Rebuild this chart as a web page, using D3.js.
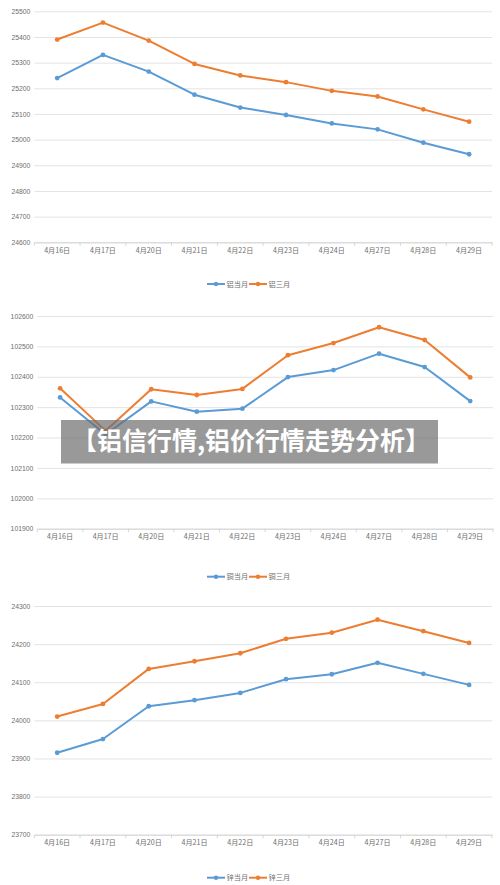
<!DOCTYPE html>
<html>
<head>
<meta charset="utf-8">
<script src="https://cdn.jsdelivr.net/npm/d3@7"></script>
<style>
  body { margin: 0; background: #fff; }
  text { font-family: "Noto Sans CJK SC", "Noto Sans", sans-serif; }
</style>
</head>
<body>
<div id="chart"></div>
<script>
// x categories shared by the three charts
const dates = ["4月16日", "4月17日", "4月20日", "4月21日", "4月22日", "4月23日", "4月24日", "4月27日", "4月28日", "4月29日"];

// aluminium
const alNames = ["铝当月", "铝三月"];
const alCurrent = [25240, 25330, 25265, 25175, 25125, 25096, 25063, 25040, 24988, 24943];
const alThird = [25390, 25456, 25386, 25295, 25250, 25224, 25190, 25168, 25118, 25070];
const alTicks = [24600, 24700, 24800, 24900, 25000, 25100, 25200, 25300, 25400, 25500];

// copper
const cuNames = ["铜当月", "铜三月"];
const cuCurrent = [102332, 102210, 102319, 102285, 102295, 102399, 102422, 102476, 102432, 102320];
const cuThird = [102362, 102222, 102359, 102340, 102360, 102471, 102511, 102563, 102521, 102398];
const cuTicks = [101900, 102000, 102100, 102200, 102300, 102400, 102500, 102600];

// zinc
const znNames = ["锌当月", "锌三月"];
const znCurrent = [23915, 23951, 24037, 24053, 24072, 24108, 24121, 24151, 24122, 24093];
const znThird = [24010, 24043, 24135, 24155, 24176, 24214, 24230, 24264, 24234, 24203];
const znTicks = [23700, 23800, 23900, 24000, 24100, 24200, 24300];

const title = "【铝信行情,铝价行情走势分析】";

const colors = ["#5b9bd5", "#ed7d31"];

const width = 500, height = 885;

const svg = d3.select("#chart")
  .append("svg")
  .attr("width", width)
  .attr("height", height);

// one block per metal: plot box in page pixels
const charts = [
  { names: alNames, series: [alCurrent, alThird], ticks: alTicks, left: 34.3, right: 492, top: 11.3, bottom: 242.3, legendY: 284 },
  { names: cuNames, series: [cuCurrent, cuThird], ticks: cuTicks, left: 37.3, right: 493, top: 316, bottom: 528.7, legendY: 576.7 },
  { names: znNames, series: [znCurrent, znThird], ticks: znTicks, left: 34.3, right: 492, top: 606, bottom: 834.7, legendY: 877.7 }
];

charts.forEach((c) => {
  let g = svg.append("g");

  let x = d3.scaleBand().domain(dates).range([c.left, c.right]);
  let y = d3.scaleLinear()
    .domain([d3.min(c.ticks), d3.max(c.ticks)])
    .range([c.bottom, c.top]);

  // gridlines + y labels
  let yAxis = g.append("g")
    .attr("transform", "translate(" + c.left + ",0)")
    .call(d3.axisLeft(y).tickValues(c.ticks).tickSize(-(c.right - c.left)).tickPadding(4).tickFormat(d3.format("d")));
  yAxis.select(".domain").remove();
  yAxis.selectAll("line").attr("stroke", "#e3e3e3").attr("stroke-width", 1);
  yAxis.selectAll("text")
    .attr("fill", "#6e6e6e")
    .style("font-size", "6.8px")
    .style("font-family", "'Liberation Sans', Arial, sans-serif");

  // x axis: line, boundary ticks, labels
  let xAxis = g.append("g")
    .attr("transform", "translate(0," + c.bottom + ")")
    .call(d3.axisBottom(x).tickSize(0).tickPadding(5.5));
  xAxis.select(".domain").attr("stroke", "#d6d6d6");
  xAxis.selectAll("text")
    .attr("fill", "#6e6e6e")
    .style("font-size", "7.1px");

  let bounds = dates.map((d) => x(d)).concat([c.right]);
  xAxis.selectAll(".bound")
    .data(bounds)
    .enter()
    .append("line")
    .attr("class", "bound")
    .attr("x1", (d) => d)
    .attr("x2", (d) => d)
    .attr("y1", 0)
    .attr("y2", 3.5)
    .attr("stroke", "#d6d6d6");

  let line = d3.line()
    .x((d, i) => x(dates[i]) + x.bandwidth() / 2)
    .y((d) => y(d));

  c.series.forEach((s, k) => {
    g.append("path")
      .datum(s)
      .attr("fill", "none")
      .attr("stroke", colors[k])
      .attr("stroke-width", 2)
      .attr("stroke-linejoin", "round")
      .attr("d", line);

    g.selectAll(".dot" + k)
      .data(s)
      .enter()
      .append("circle")
      .attr("class", "dot" + k)
      .attr("cx", (d, i) => x(dates[i]) + x.bandwidth() / 2)
      .attr("cy", (d) => y(d))
      .attr("r", 2.4)
      .attr("fill", colors[k]);
  });

  // legend
  let lg = g.append("g").attr("transform", "translate(207," + c.legendY + ")");
  c.names.forEach((n, k) => {
    let item = lg.append("g").attr("transform", "translate(" + k * 42 + ",0)");
    item.append("line")
      .attr("x1", 0).attr("x2", 18)
      .attr("y1", 0).attr("y2", 0)
      .attr("stroke", colors[k])
      .attr("stroke-width", 2);
    item.append("circle")
      .attr("cx", 9).attr("cy", 0).attr("r", 2.2)
      .attr("fill", colors[k]);
    item.append("text")
      .attr("x", 19.5)
      .attr("y", 2.6)
      .attr("fill", "#6e6e6e")
      .style("font-size", "7.2px")
      .text(n);
  });
});

// title banner over the middle chart
svg.append("rect")
  .attr("x", 61)
  .attr("y", 420)
  .attr("width", 377)
  .attr("height", 43.5)
  .attr("fill", "rgba(110,110,110,0.7)");

svg.append("text")
  .attr("x", 251)
  .attr("y", 450)
  .attr("text-anchor", "middle")
  .attr("fill", "#fff")
  .style("font-size", "25px")
  .style("font-weight", "bold")
  .text(title);
</script>
</body>
</html>
